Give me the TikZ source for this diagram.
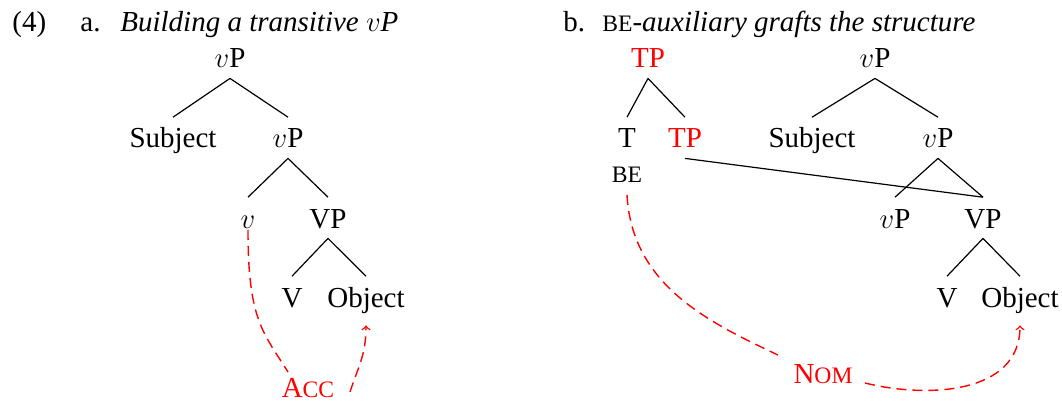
\documentclass[tikz,border=0pt]{standalone}
\usepackage{fontspec}
\setmainfont{Liberation Serif}
\usetikzlibrary{calc}
\newcommand\smc[1]{{\fontsize{11.8}{13}\selectfont #1}}
\begin{document}
\begin{tikzpicture}[x=0.5pt,y=-0.5pt,
  every node/.style={font=\fontsize{14.5}{17}\selectfont},
  hd/.style={anchor=base west,inner sep=0pt},
  tn/.style={anchor=base,inner sep=5pt,text height=10.2pt,text depth=0pt},
  lb/.style={anchor=base,inner sep=0pt},
  edge/.style={line width=0.6pt},
  agree/.style={red,line width=0.7pt,dash pattern=on 5pt off 3pt},
  >=to
]
\useasboundingbox (0,0) rectangle (1062,401);
% headings
\node[hd] (ex) at (12,32) {(4)};
\node[hd] (ha) at (80,32) {a.};
\node[hd] (ta) at (120,32) {\textit{Building a transitive $v$P}};
\node[hd] (hb) at (563,32) {b.};
\node[hd] (tb) at (602,32) {\smc{BE}\textit{-auxiliary grafts the structure}};
% tree a
\node[tn] (a1) at (230,68) {$v$P};
\node[tn] (a2) at (173,148) {Subject};
\node[tn] (a3) at (288,148) {$v$P};
\node[tn] (a4) at (248,228) {$v$};
\node[tn] (a5) at (328,228) {VP};
\node[tn] (a6) at (292,307) {V};
\node[tn] (a7) at (366,307) {Object};
\node[lb,text=red] (acc) at (308,397) {A\smc{CC}};
\draw[edge] (a1.south) -- (a2.north);
\draw[edge] (a1.south) -- (a3.north);
\draw[edge] (a3.south) -- (a4.north);
\draw[edge] (a3.south) -- (a5.north);
\draw[edge] (a5.south) -- (a6.north);
\draw[edge] (a5.south) -- (a7.north);
\draw[agree] ($(a4.base)+(0,2)$) .. controls +(0,90) and +(-25,-40) .. ($(acc.base)+(-20,-25)$);
\draw[agree,->] ($(acc.base)+(42,-5)$) .. controls +(8,-25) and +(0,30) .. ($(a7.south)+(0,8)$);
% tree b
\node[tn,text=red] (b1) at (648,68) {TP};
\node[tn] (b2) at (627,148) {T};
\node[tn,text=red] (b3) at (685,148) {TP};
\node[lb] (be) at (627,183) {\smc{BE}};
\node[tn] (c1) at (875,68) {$v$P};
\node[tn] (c2) at (812,148) {Subject};
\node[tn] (c3) at (938,148) {$v$P};
\node[tn] (c4) at (895,228) {$v$P};
\node[tn] (c5) at (983,228) {VP};
\node[tn] (c6) at (947,307) {V};
\node[tn] (c7) at (1020,307) {Object};
\node[lb,text=red] (nom) at (823,383) {N\smc{OM}};
\draw[edge] (b1.south) -- (b2.north);
\draw[edge] (b1.south) -- (b3.north);
\draw[edge] (b3.south) -- (c5.north);
\draw[edge] (c1.south) -- (c2.north);
\draw[edge] (c1.south) -- (c3.north);
\draw[edge] (c3.south) -- (c4.north);
\draw[edge] (c3.south) -- (c5.north);
\draw[edge] (c5.south) -- (c6.north);
\draw[edge] (c5.south) -- (c7.north);
\draw[agree] ($(be.base)+(0,12)$) .. controls +(5,90) and +(-70,-33) .. ($(nom.base)+(-45,-28)$);
\draw[agree,->] ($(nom.base)+(42,0)$) .. controls +(60,15) and +(0,70) .. ($(c7.south)+(0,8)$);
\end{tikzpicture}
\end{document}
